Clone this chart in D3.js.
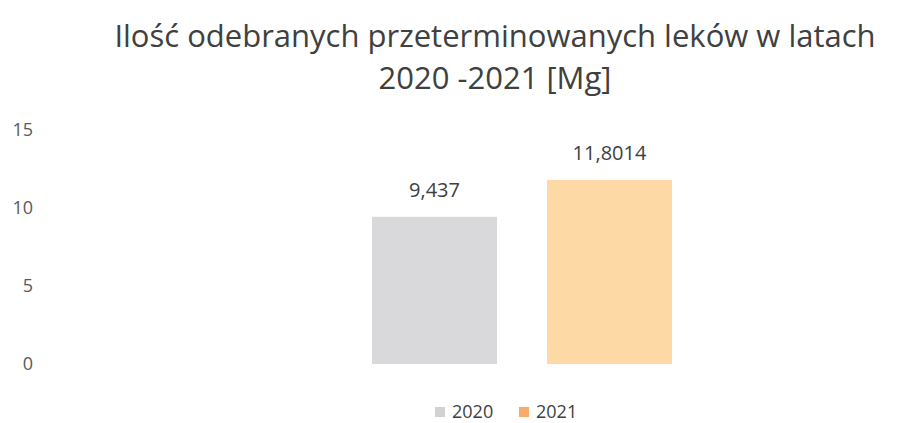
<!DOCTYPE html>
<html>
<head>
<meta charset="utf-8">
<script src="https://cdn.jsdelivr.net/npm/d3@7"></script>
<style>
  body { margin: 0; background: #fff; }
  text { font-family: "Open Sans", sans-serif; }
</style>
</head>
<body>
<script>
var titleLines = ["Ilość odebranych przeterminowanych leków w latach", "2020 -2021 [Mg]"];
var series = ["2020", "2021"];
var values = [9.437, 11.8014];
var valueLabels = ["9,437", "11,8014"];
var yTicks = [0, 5, 10, 15];

var barColors = ["#d9d9db", "#fdd9a6"];
var legendColors = ["#d2d2d2", "#f9ac6a"];

var width = 898;
var height = 423;

var svg = d3.select("body")
            .append("svg")
            .attr("width", width)
            .attr("height", height);

var yScale = d3.scaleLinear()
               .domain([0, 15])
               .range([364, 130]);

var xScale = d3.scaleBand()
               .domain(series)
               .range([372, 672])
               .paddingInner(0.2857)
               .paddingOuter(0);

// title
svg.selectAll(".title")
   .data(titleLines)
   .enter()
   .append("text")
   .attr("class", "title")
   .attr("x", 495)
   .attr("y", function(d, i){ return 47 + i * 42; })
   .attr("text-anchor", "middle")
   .attr("font-size", 31)
   .attr("fill", "#404040")
   .text(function(d){ return d; });

// y axis labels only
var yAxis = d3.axisLeft(yScale)
              .tickValues(yTicks)
              .tickSize(0)
              .tickPadding(0);

var gy = svg.append("g")
   .attr("transform", "translate(33,0)")
   .call(yAxis);
gy.select(".domain").remove();
gy.selectAll("text")
  .attr("font-family", "Open Sans, sans-serif")
  .attr("font-size", 18)
  .attr("fill", "#595959");

// bars
svg.selectAll(".bar")
   .data(values)
   .enter()
   .append("rect")
   .attr("class", "bar")
   .attr("x", function(d, i){ return xScale(series[i]); })
   .attr("y", function(d){ return yScale(d); })
   .attr("width", xScale.bandwidth())
   .attr("height", function(d){ return yScale(0) - yScale(d); })
   .attr("fill", function(d, i){ return barColors[i]; });

// data labels
svg.selectAll(".lbl")
   .data(values)
   .enter()
   .append("text")
   .attr("class", "lbl")
   .attr("x", function(d, i){ return xScale(series[i]) + xScale.bandwidth() / 2; })
   .attr("y", function(d){ return yScale(d) - 20; })
   .attr("text-anchor", "middle")
   .attr("font-size", 20)
   .attr("fill", "#404040")
   .text(function(d, i){ return valueLabels[i]; });

// legend
var legendX = [435, 519];
var legend = svg.selectAll(".leg")
   .data(series)
   .enter()
   .append("g")
   .attr("class", "leg")
   .attr("transform", function(d, i){ return "translate(" + legendX[i] + ",407)"; });

legend.append("rect")
      .attr("width", 10)
      .attr("height", 10)
      .attr("fill", function(d, i){ return legendColors[i]; });

legend.append("text")
      .attr("x", 17)
      .attr("y", 11)
      .attr("font-size", 18)
      .attr("fill", "#404040")
      .text(function(d){ return d; });
</script>
</body>
</html>
